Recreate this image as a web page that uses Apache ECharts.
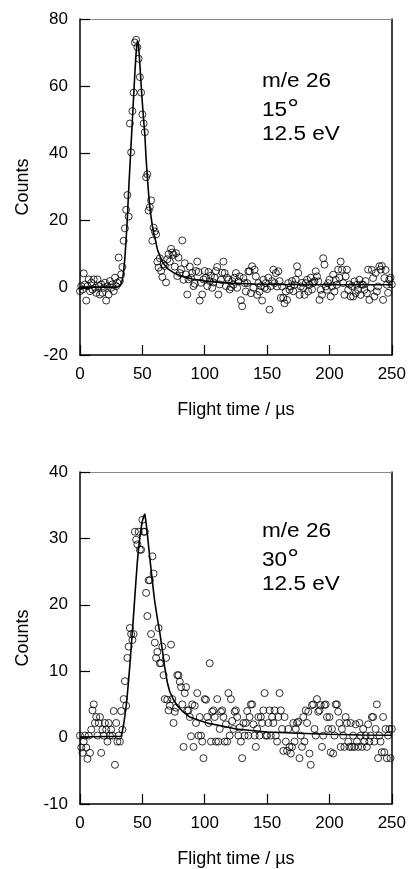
<!DOCTYPE html>
<html>
<head>
<meta charset="utf-8">
<script src="https://cdn.jsdelivr.net/npm/echarts@6/dist/echarts.min.js"></script>
<style>
  html, body { margin: 0; padding: 0; background: #fff; }
  #chart { width: 409px; height: 869px; }
</style>
</head>
<body>
<div id="chart"></div>
<script>
// Time-of-flight spectra, m/e 26 at 12.5 eV, two scattering angles.
// One count value per 1 µs bin, starting at 0 µs.

const xTicks = [0, 50, 100, 150, 200, 250];
const yTicks15 = [-20, 0, 20, 40, 60, 80];
const yTicks30 = [-10, 0, 10, 20, 30, 40];

// 15 degrees: measured counts, bins 0..250 µs
const counts15 = [
  -1.0, 0.5, -0.5, 4.3, 1.0, -3.8, 0.5, 2.5, -1.0, 1.5,
  -0.5, 2.5, 0.0, -1.5, 2.5, 0.5, -2.0, 1.0, -1.5, 0.0,
  1.5, -3.8, 0.5, -2.0, 2.0, 0.0, 1.0, -1.0, 3.0, 0.5,
  1.5, 9.0, 2.0, 4.0, 6.2, 14.0, 17.7, 23.2, 27.6, 21.2,
  48.9, 40.3, 52.6, 58.1, 73.0, 73.8, 71.6, 68.2, 62.7, 58.1,
  51.6, 48.9, 46.3, 32.9, 33.8, 23.0, 24.0, 26.0, 14.0, 17.9,
  16.8, 15.9, 7.8, 6.0, 8.8, 5.0, 3.2, 7.0, 6.5, 1.6,
  8.5, 10.0, 7.8, 11.6, 10.5, 9.8, 6.3, 10.3, 3.5, 9.0,
  4.4, 5.5, 14.1, 2.4, 7.3, 4.0, -2.0, 2.5, 6.3, 3.0,
  4.4, 0.5, 1.2, 5.0, 7.8, 4.7, -3.8, 1.5, -2.0, 2.5,
  5.0, 3.0, 0.5, 4.7, 2.0, 3.6, 0.0, 1.6, 3.0, 5.0,
  6.2, -2.0, 1.0, 2.4, 4.5, 7.8, 4.4, 0.5, 3.0, 2.4,
  -0.5, 0.2, 2.0, 0.9, 3.0, 4.4, 0.0, 1.9, 3.4, -3.7,
  -5.5, 2.9, 1.4, -1.1, 1.4, 4.9, 4.9, -1.6, 6.4, 0.0,
  5.4, 3.4, -2.1, 1.4, -1.1, 0.5, -3.8, 2.4, 0.0, 1.4,
  -0.4, 3.0, -6.5, 0.5, 2.0, 5.4, 1.4, 4.4, 0.4, 4.9,
  2.0, -3.0, 0.4, -3.0, -4.6, -1.1, -3.6, 1.4, -0.6, 0.4,
  2.0, -1.0, 0.9, 2.4, 6.4, 4.4, -2.1, 0.4, 1.5, 0.0,
  -2.1, 1.4, 2.4, -1.1, 0.9, 3.0, -0.5, 1.5, 2.0, 4.9,
  3.4, 1.9, -3.6, -0.6, -2.1, 8.8, 6.9, 0.4, -0.6, 1.4,
  2.4, -2.6, 0.4, 3.9, -1.1, 2.4, 0.9, 5.4, 3.0, 7.8,
  5.4, 1.4, -2.1, 3.4, 5.4, -0.6, 1.0, -2.6, 0.5, -2.6,
  1.9, -1.6, 0.9, -0.6, 2.4, -2.1, 1.0, 0.9, -0.6, 2.0,
  -1.6, 5.4, -3.6, 0.0, 5.3, 2.9, -2.6, 4.4, -1.1, 0.4,
  6.4, 5.4, 6.5, -3.6, 2.9, 5.3, 0.9, -1.5, 2.4, 3.0,
  1.0
];

// 15 degrees: fitted curve
const fitTime15 = [0, 30, 32, 33, 34, 35, 36, 37, 38, 39, 40, 41, 42, 43, 44, 45, 46, 47, 48, 49,
  50, 51, 52, 53, 54, 55, 56, 57, 58, 59, 60, 62, 64, 66, 68, 70, 75, 80, 85, 90,
  100, 110, 120, 140, 160, 200, 250];
const fitCounts15 = [0.2, 0.2, 0.5, 1.2, 2.5, 5, 9, 14.5, 21, 29, 36, 43, 50, 57, 64, 70, 73.5, 72, 66.5, 60.5,
  55, 50, 45.5, 38.5, 33, 28, 24, 21, 18.5, 16.5, 15, 11.5, 9.5, 7.8, 6.7, 5.8, 4.5, 3.7, 3.1, 2.6,
  2.0, 1.7, 1.4, 1.15, 1.0, 0.9, 0.9];

// 30 degrees: measured counts, bins 0..250 µs
const counts30 = [
  0.3, -1.5, -2.3, -0.6, 0.3, -1.5, -3.2, 0.3, -2.3, 1.2,
  4.1, 5.0, 2.2, 3.1, 0.3, 2.2, 3.1, -2.3, 1.2, 0.3,
  2.2, 1.2, -0.6, 2.2, 0.3, 1.2, 0.3, 4.0, -4.1, 2.2,
  -0.6, 0.3, -0.6, 4.0, 1.2, 5.8, 8.5, 4.8, 12.0, 13.7,
  16.5, 15.6, 14.7, 15.6, 31.0, 29.8, 29.1, 31.0, 28.3, 28.3,
  32.8, 31.0, 31.0, 21.8, 18.3, 23.7, 23.7, 15.6, 27.3, 24.7,
  14.3, 12.0, 12.9, 16.5, 11.2, 11.2, 13.7, 9.4, 5.8, 12.0,
  5.7, 4.1, 4.8, 14.0, 5.8, 2.2, 3.9, 4.5, 9.4, 9.4,
  8.4, 7.6, 5.0, -1.4, 6.7, 7.6, 4.1, 4.1, 3.1, 0.2,
  5.0, -1.4, 4.8, 2.2, 6.7, 0.3, 3.1, 0.3, -0.6, -3.1,
  5.8, 5.7, 3.1, 2.2, 11.2, -0.6, 3.9, 4.1, 3.1, -0.6,
  5.8, -0.6, 1.3, 3.9, 4.1, 3.1, -0.6, 2.0, -0.6, 6.7,
  0.3, 5.8, 2.5, 1.3, 3.9, 4.1, 3.1, 0.3, 1.5, -0.6,
  -3.1, 2.2, 0.3, 2.2, 4.0, 0.3, 3.1, 5.0, 5.0, 2.0,
  0.3, -1.4, 1.3, 3.1, 0.3, 3.1, 2.2, 4.1, 6.7, 0.3,
  0.3, 2.2, 4.1, 0.3, 3.1, 2.2, 4.1, 0.3, -0.6, 3.1,
  6.7, 4.1, 1.3, -2.0, 3.1, -0.6, -2.0, 1.3, -1.4, -2.4,
  -1.4, 2.2, -0.6, 1.3, 2.2, 2.4, -3.1, 0.3, -1.4, 3.1,
  -0.6, 4.1, 2.2, 3.9, -2.4, -4.1, 4.9, 5.0, 1.3, 0.3,
  5.8, 3.9, 4.1, 4.9, -1.4, 0.3, 4.9, 5.0, 3.1, 1.3,
  3.1, -2.2, 1.3, -2.4, 0.3, 5.0, 5.0, 3.9, 2.2, -1.4,
  1.3, 0.3, -1.4, 3.1, 2.2, -0.6, -1.4, 2.2, -1.4, 0.3,
  -1.4, 2.0, -0.6, -1.4, 2.2, 0.3, -1.4, 1.3, -0.6, 0.3,
  -1.4, 2.0, -0.6, 0.3, 3.1, 3.1, -0.6, 1.3, 5.0, -3.1,
  0.3, -0.6, -2.2, 3.1, -2.2, 1.3, -3.1, 0.3, 1.3, -3.1,
  1.3
];

// 30 degrees: fitted curve
const fitTime30 = [0, 33, 34, 35, 36, 37, 38, 39, 40, 41, 42, 43, 44, 45, 46, 47, 48, 49, 50, 51,
  52, 53, 54, 55, 56, 57, 58, 59, 60, 62, 64, 66, 68, 70, 72, 75, 78, 82, 88, 95,
  104, 115, 125, 150, 175, 200, 225, 250];
const fitCounts30 = [0.1, 0.2, 1, 2, 3.3, 4.7, 6.6, 8.7, 11, 13.5, 16, 18.6, 21.3, 24, 26.5, 28.5, 30.2, 31.6, 32.6, 33.3,
  33.7, 32.3, 30.7, 28.8, 27, 25.3, 23.6, 21.9, 20.4, 18, 15.8, 13.2, 10.5, 8.3, 6.9, 5.7, 4.8, 4.0, 3.1, 2.6,
  2.1, 1.7, 1.3, 0.85, 0.65, 0.5, 0.4, 0.35];

const panelNotes = [
  { angle: '15', energy: '12.5 eV' },
  { angle: '30', energy: '12.5 eV' }
];

const FONT = '"Liberation Sans", Arial, Helvetica, sans-serif';

function pairs(xs, ys) { return ys.map((v, i) => [xs[i], v]); }
function binned(ys) { return ys.map((v, i) => [i, v]); }

const grids = [
  { left: 80, top: 19, width: 314, height: 336 },
  { left: 80, top: 472, width: 313, height: 334 }
];

function mainX(gi) {
  return {
    gridIndex: gi, type: 'value', position: 'bottom',
    min: xTicks[0], max: xTicks[xTicks.length - 1], interval: xTicks[1] - xTicks[0],
    axisLine: { show: true, onZero: false, lineStyle: { color: '#000', width: 1.5 } },
    axisTick: { show: true, inside: true, length: 10, lineStyle: { color: '#000', width: 1.2 } },
    axisLabel: { color: '#000', fontSize: 17, fontFamily: FONT, margin: 11 },
    splitLine: { show: false },
    name: 'Flight time / µs', nameLocation: 'middle', nameGap: 46,
    nameTextStyle: { color: '#000', fontSize: 18, fontFamily: FONT }
  };
}
function topX(gi) {
  return {
    gridIndex: gi, type: 'value', position: 'top', min: 0, max: 250,
    axisLine: { show: true, onZero: false, lineStyle: { color: '#8a8a8a', width: 1 } },
    axisTick: { show: false }, axisLabel: { show: false }, splitLine: { show: false }
  };
}
function mainY(gi, ticks) {
  return {
    gridIndex: gi, type: 'value', position: 'left',
    min: ticks[0], max: ticks[ticks.length - 1], interval: ticks[1] - ticks[0],
    axisLine: { show: true, onZero: false, lineStyle: { color: '#000', width: 1.5 } },
    axisTick: { show: true, inside: true, length: 10, lineStyle: { color: '#000', width: 1.2 } },
    axisLabel: { color: '#000', fontSize: 17, fontFamily: FONT, margin: 12 },
    splitLine: { show: false },
    name: 'Counts', nameLocation: 'middle', nameGap: 47, nameRotate: 90,
    nameTextStyle: { color: '#000', fontSize: 18, fontFamily: FONT }
  };
}
function rightY(gi, ticks) {
  return {
    gridIndex: gi, type: 'value', position: 'right',
    min: ticks[0], max: ticks[ticks.length - 1],
    axisLine: { show: true, onZero: false, lineStyle: { color: '#000', width: 1.5 } },
    axisTick: { show: false }, axisLabel: { show: false }, splitLine: { show: false }
  };
}

function dotSeries(gi, ys) {
  return {
    type: 'scatter', xAxisIndex: gi * 2, yAxisIndex: gi * 2,
    data: binned(ys), symbol: 'circle', symbolSize: 7,
    itemStyle: { color: 'rgba(0,0,0,0)', borderColor: '#000', borderWidth: 1 },
    silent: true, z: 3
  };
}
function fitSeries(gi, xs, ys) {
  return {
    type: 'line', xAxisIndex: gi * 2, yAxisIndex: gi * 2,
    data: pairs(xs, ys), showSymbol: false, smooth: false,
    lineStyle: { color: '#000', width: 1.6 }, silent: true, z: 4
  };
}

function noteBlock(note, top) {
  const base = { fontFamily: FONT, fontSize: 20, fill: '#000' };
  return [
    { type: 'text', left: 262, top: top, scaleX: 1.13, style: Object.assign({ text: 'm/e 26' }, base) },
    { type: 'text', left: 262, top: top + 26, scaleX: 1.13, style: Object.assign({
        text: note.angle + '{deg|°}',
        rich: { deg: { fontSize: 26, fontFamily: FONT, fill: '#000' } }
      }, base) },
    { type: 'text', left: 262, top: top + 53, scaleX: 1.13, style: Object.assign({ text: note.energy }, base) }
  ];
}

const chart = echarts.init(document.getElementById('chart'), null, { renderer: 'canvas' });
chart.setOption({
  animation: false,
  backgroundColor: '#fff',
  grid: grids,
  xAxis: [mainX(0), topX(0), mainX(1), topX(1)],
  yAxis: [mainY(0, yTicks15), rightY(0, yTicks15), mainY(1, yTicks30), rightY(1, yTicks30)],
  series: [
    dotSeries(0, counts15), fitSeries(0, fitTime15, fitCounts15),
    dotSeries(1, counts30), fitSeries(1, fitTime30, fitCounts30)
  ],
  graphic: noteBlock(panelNotes[0], 71).concat(noteBlock(panelNotes[1], 521))
});
</script>
</body>
</html>
